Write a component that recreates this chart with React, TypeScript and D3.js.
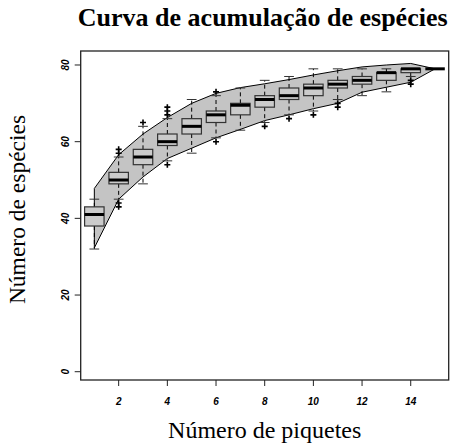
import React from "react";
import * as d3 from "d3";

// Number of plots sampled (x positions)
const sites = [1, 2, 3, 4, 5, 6, 7, 8, 9, 10, 11, 12, 13, 14, 15];

// Boxplot statistics of species richness per number of plots
const whiskerLow = [32, 45, 49, 55, 57, 61, 63, 65, 67, 68, 71, 72, 73, 77, 79];
const quartile1 = [38, 49, 54, 59, 62, 65, 67, 69, 71, 72, 74, 75, 76, 78, 79];
const medians = [41, 50, 56, 60, 64, 67, 69.5, 71, 72, 74, 75, 76, 78, 79, 79];
const quartile3 = [43, 52, 58, 62, 66, 68, 70, 72, 74, 75, 76, 77, 78, 79, 79];
const whiskerHigh = [45, 56, 64, 66, 71, 72, 74, 76, 77, 79, 79, 79, 79, 79, 79];
const outliers: number[][] = [
  [],
  [57, 58, 44, 43],
  [65],
  [67, 68, 69, 54],
  [],
  [73, 60],
  [],
  [64],
  [66],
  [67],
  [70, 69],
  [],
  [],
  [76, 75],
  [],
];

// Confidence band (mean ± 2 sd) of the accumulation curve
const bandUpper = [47.8, 56.6, 62.0, 66.3, 70.0, 72.6, 74.1, 75.1, 76.2, 77.4, 78.5, 79.5, 80.0, 80.4, 79.0];
const bandLower = [32.3, 45.0, 50.8, 55.6, 58.3, 61.0, 63.2, 65.5, 67.0, 68.6, 70.0, 72.9, 74.2, 75.5, 79.0];

const xTicks = [2, 4, 6, 8, 10, 12, 14];
const yTicks = [0, 20, 40, 60, 80];

const title = "Curva de acumulação de espécies";
const xTitle = "Número de piquetes";
const yTitle = "Número de espécies";

const W = 454;
const H = 444;
const plot = { left: 80.7, right: 448.7, top: 51, bottom: 380 };

export default function App() {
  const x = d3.scaleLinear().domain([0.44, 15.56]).range([plot.left, plot.right]);
  const y = d3.scaleLinear().domain([-2.16, 83.65]).range([plot.bottom, plot.top]);

  const bandData = sites.map((s, i) => ({ s, lo: bandLower[i], hi: bandUpper[i] }));
  const area = d3
    .area<{ s: number; lo: number; hi: number }>()
    .x((d) => x(d.s))
    .y0((d) => y(d.lo))
    .y1((d) => y(d.hi));
  const bandPath = area(bandData) + "Z";

  const boxHalf = (x(1.4) - x(1)) ;
  const capHalf = boxHalf / 2;
  const tickFont = "'Liberation Sans', Arial, Helvetica, sans-serif";
  const serif = "'Liberation Serif', 'Times New Roman', Times, serif";
  const cx = (plot.left + plot.right) / 2;
  const cy = (plot.top + plot.bottom) / 2;

  return (
    <svg
      width={W}
      height={H}
      style={{ position: "absolute", left: 0, top: 0, background: "#fff" }}
    >
      <text x={cx - 2} y={26} textAnchor="middle" fontFamily={serif} fontWeight="bold" fontSize={26}>
        {title}
      </text>

      {/* confidence band */}
      <path d={bandPath} fill="#c4c4c4" stroke="#000" strokeWidth={1} />

      {/* boxplots */}
      {sites.map((s, i) => {
        const px = x(s);
        return (
          <g key={s}>
            <line x1={px} x2={px} y1={y(quartile3[i])} y2={y(whiskerHigh[i])} stroke="#000" strokeWidth={1} strokeDasharray="4,3" />
            <line x1={px} x2={px} y1={y(quartile1[i])} y2={y(whiskerLow[i])} stroke="#000" strokeWidth={1} strokeDasharray="4,3" />
            <line x1={px - capHalf} x2={px + capHalf} y1={y(whiskerHigh[i])} y2={y(whiskerHigh[i])} stroke="#333" strokeWidth={1} />
            <line x1={px - capHalf} x2={px + capHalf} y1={y(whiskerLow[i])} y2={y(whiskerLow[i])} stroke="#333" strokeWidth={1} />
            <rect
              x={px - boxHalf}
              y={y(quartile3[i])}
              width={boxHalf * 2}
              height={Math.max(0, y(quartile1[i]) - y(quartile3[i]))}
              fill="#cbcbcb"
              stroke="#333"
              strokeWidth={1.2}
            />
            <line x1={px - boxHalf} x2={px + boxHalf} y1={y(medians[i])} y2={y(medians[i])} stroke="#000" strokeWidth={3} />
            {outliers[i].map((v, j) => (
              <path
                key={j}
                d={`M${px - 3},${y(v)}H${px + 3}M${px},${y(v) - 3}V${y(v) + 3}`}
                stroke="#000"
                strokeWidth={1.6}
                fill="none"
              />
            ))}
          </g>
        );
      })}

      {/* frame */}
      <rect
        x={plot.left}
        y={plot.top}
        width={plot.right - plot.left}
        height={plot.bottom - plot.top}
        fill="none"
        stroke="#222"
        strokeWidth={1.3}
      />

      {/* x axis */}
      {xTicks.map((t) => (
        <g key={t}>
          <line x1={x(t)} x2={x(t)} y1={plot.bottom} y2={plot.bottom + 6} stroke="#222" strokeWidth={1} />
          <text x={x(t)} y={405} textAnchor="middle" fontFamily={tickFont} fontWeight="bold" fontStyle="italic" fontSize={10}>
            {t}
          </text>
        </g>
      ))}

      {/* y axis */}
      {yTicks.map((t) => (
        <g key={t}>
          <line x1={plot.left - 6} x2={plot.left} y1={y(t)} y2={y(t)} stroke="#222" strokeWidth={1} />
          <text
            transform={`translate(68.5,${y(t)}) rotate(-90)`}
            textAnchor="middle"
            fontFamily={tickFont}
            fontWeight="bold"
            fontStyle="italic"
            fontSize={10}
          >
            {t}
          </text>
        </g>
      ))}

      <text x={cx} y={438} textAnchor="middle" fontFamily={serif} fontSize={24}>
        {xTitle}
      </text>
      <text transform={`translate(25,${cy - 6}) rotate(-90)`} textAnchor="middle" fontFamily={serif} fontSize={23.5}>
        {yTitle}
      </text>
    </svg>
  );
}
